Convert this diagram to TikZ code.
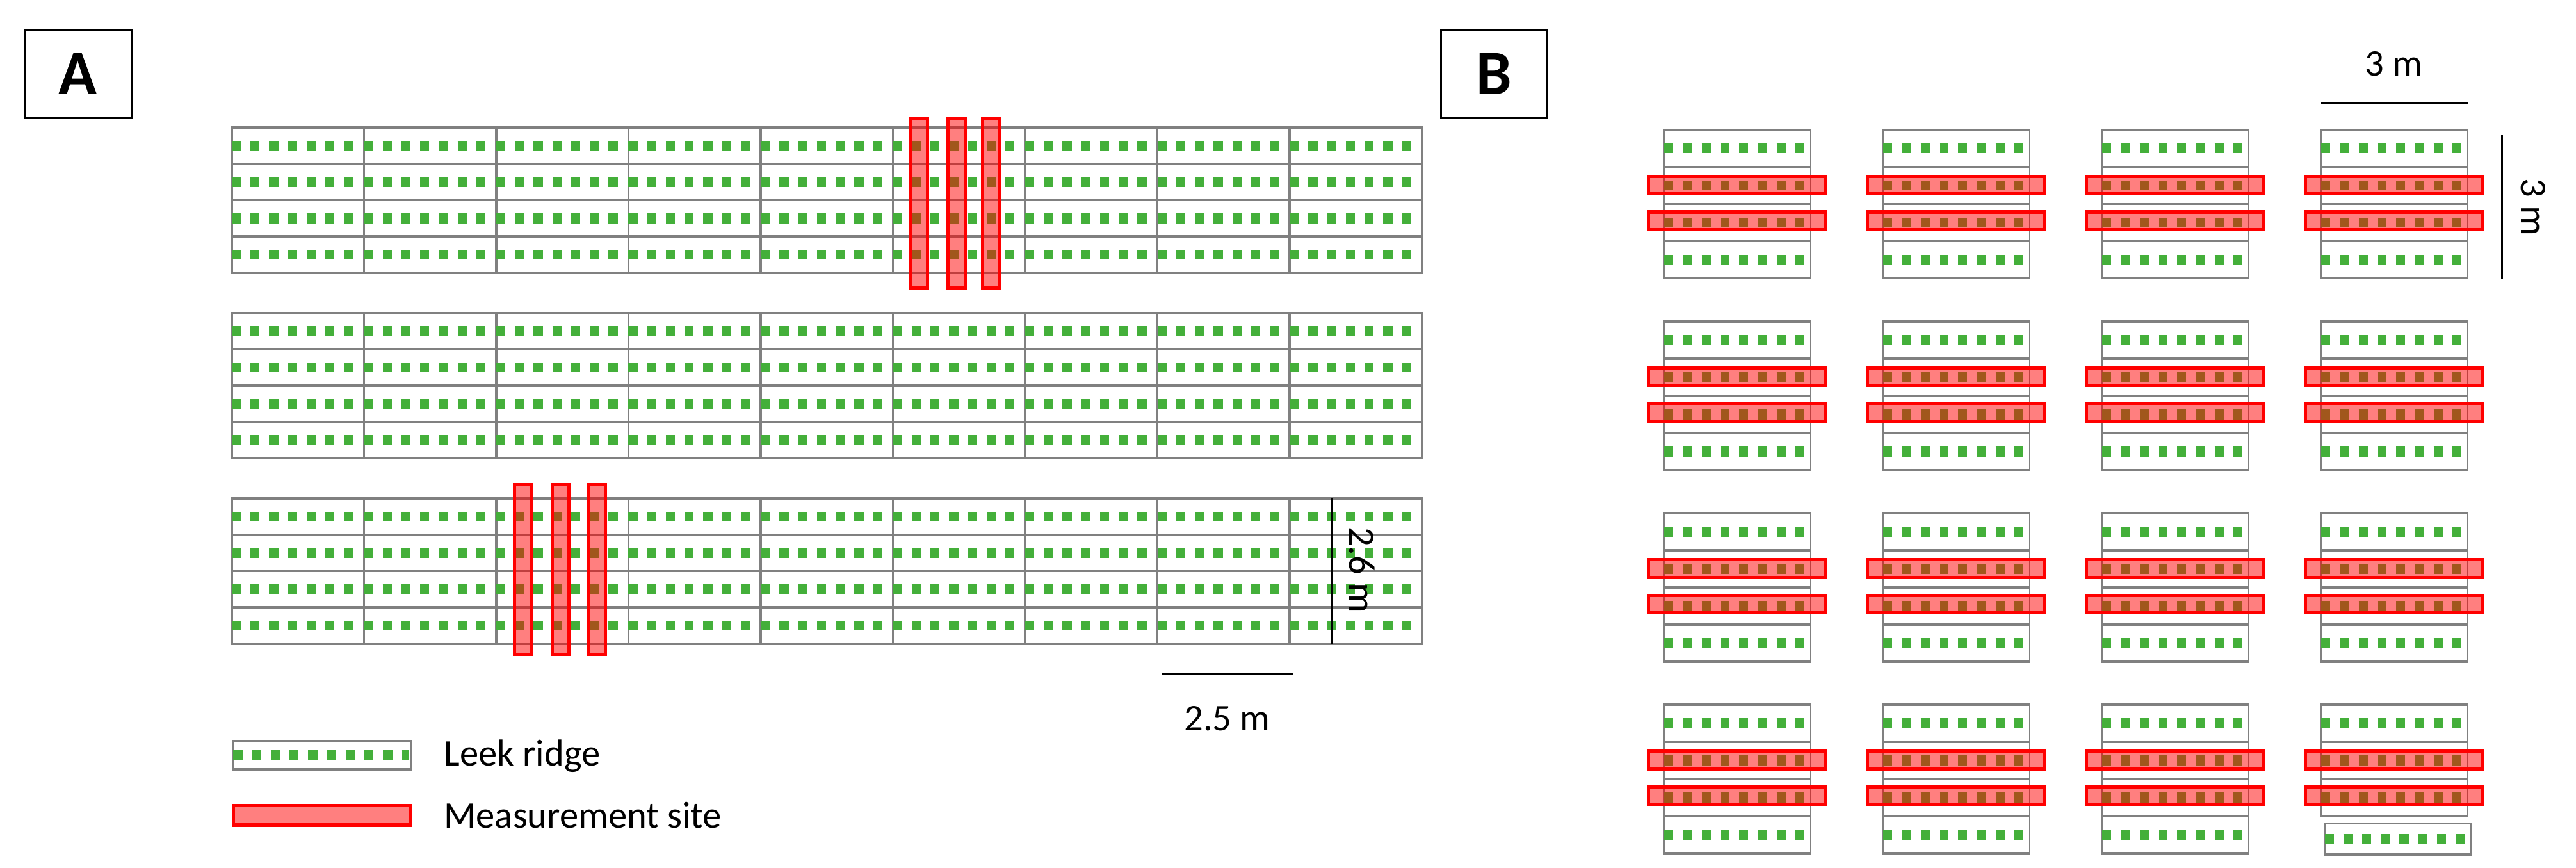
\documentclass[tikz,border=0pt]{standalone}
\usepackage{fontspec}
\setmainfont{Carlito}
\begin{document}
\begin{tikzpicture}[x=0.02cm,y=-0.02cm,
  grid/.style={draw=black!50,line width=0.028cm},
  dots/.style={draw=green!55!black!80!green,color={rgb,255:red,68;green,175;blue,58},line width=0.12cm,dash pattern=on 0.112cm off 0.116cm},
  site/.style={fill=red,fill opacity=0.5,draw=red,draw opacity=1,line width=0.04cm},
  lbl/.style={draw=black,line width=0.025cm,minimum width=1.3cm,minimum height=1.08cm,font=\fontsize{22}{24}\selectfont\bfseries},
  txt/.style={font=\fontsize{13}{15}\selectfont,inner sep=0pt}]
\useasboundingbox (0,0) rectangle (1568,528);
\fill[white] (0,0) rectangle (1568,528);
% Panel A
\node[lbl] (la) at (47.5,45) {A};
\foreach \t in {77.6,190.4,303.2}{
  \foreach \c in {0,...,8}{
    \pgfmathsetmacro\xl{141+80.5*\c}
    \foreach \r in {0,...,3}{
      \pgfmathsetmacro\yt{\t+22.1*\r}
      \draw[grid] (\xl,\yt) rectangle ++(80.5,22.1);
      \draw[dots] (\xl,\yt+11.05) -- ++(79.5,0);
    }
  }
}
\foreach \x in {554,577,598}{\draw[site] (\x,72) rectangle ++(10.5,103);}
\foreach \x in {313,336,358}{\draw[site] (\x,295) rectangle ++(10.5,103);}
% scale bars A
\coordinate (s1a) at (811,303.2); \coordinate (s1b) at (811,391.6);
\draw[line width=0.025cm] (s1a) -- (s1b);
\node[txt,rotate=-90] (t26) at (829,347) {2.6 m};
\coordinate (s2a) at (707,410); \coordinate (s2b) at (787,410);
\draw[line width=0.025cm] (s2a) -- (s2b);
\node[txt] (t25) at (747,437) {2.5 m};
% legend
\draw[grid] (142,451) rectangle (250,468);
\draw[dots] (142,459.5) -- (249,459.5);
\node[txt,anchor=west] (leek) at (270,460) {Leek ridge};
\draw[site] (142,490) rectangle (250,502);
\node[txt,anchor=west] (meas) at (270,496) {Measurement site};
% Panel B
\node[lbl] (lb) at (909.5,45) {B};
\foreach \i in {0,...,3}{
  \foreach \j in {0,...,3}{
    \pgfmathsetmacro\xl{1013+133.3*\i}
    \pgfmathsetmacro\yt{79+116.6*\j}
    \pgfmathtruncatemacro\nr{(\i==3 && \j==3) ? 3 : 4}
    \foreach \r in {1,...,\nr}{
      \pgfmathsetmacro\ya{\yt+22.6*(\r-1)}
      \draw[grid] (\xl,\ya) rectangle ++(89,22.6);
      \draw[dots] (\xl,\ya+11.3) -- ++(86,0);
    }
    \draw[site] (\xl-9.5,\yt+28.4) rectangle ++(108,10.6);
    \draw[site] (\xl-9.5,\yt+50) rectangle ++(108,10.6);
  }
}
\draw[grid] (1415,501) rectangle ++(89,19);
\draw[dots] (1415,510.5) -- ++(86,0);
% scale bars B
\coordinate (s3a) at (1413,63); \coordinate (s3b) at (1502,63);
\draw[line width=0.025cm] (s3a) -- (s3b);
\node[txt] (t3h) at (1457,39) {3 m};
\coordinate (s4a) at (1523,82); \coordinate (s4b) at (1523,170);
\draw[line width=0.025cm] (s4a) -- (s4b);
\node[txt,rotate=-90] (t3v) at (1542,126) {3 m};
\end{tikzpicture}
\end{document}
